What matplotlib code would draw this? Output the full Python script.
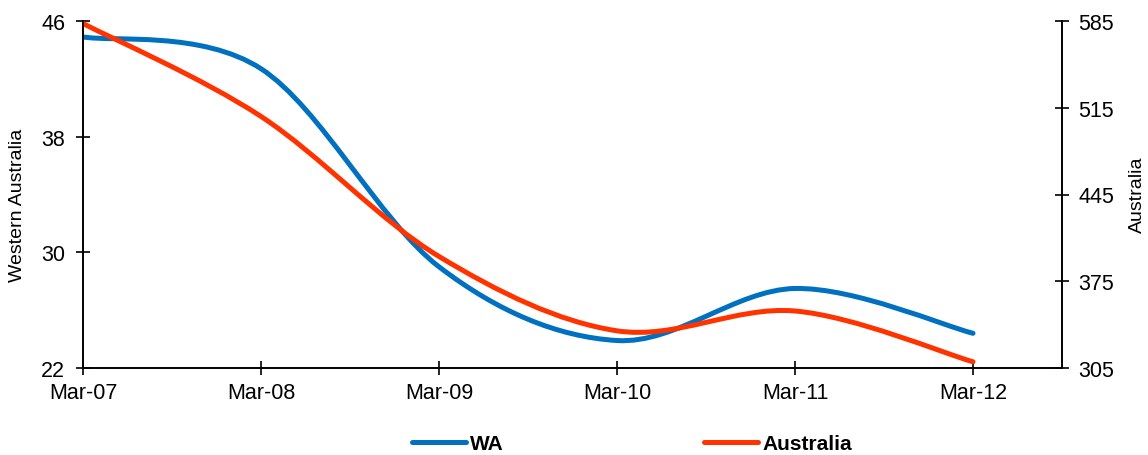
import matplotlib
matplotlib.use("Agg")
import matplotlib.pyplot as plt
from matplotlib.path import Path
from matplotlib.patches import PathPatch
from matplotlib.lines import Line2D

plt.rcParams['font.family'] = ['Liberation Sans', 'DejaVu Sans']

periods = ["Mar-07", "Mar-08", "Mar-09", "Mar-10", "Mar-11", "Mar-12"]
wa_values = [44.9, 42.7, 29.0, 23.9, 27.5, 24.4]
australia_values = [583, 508, 395, 335, 351, 310]

wa_ticks = [22, 30, 38, 46]
aus_ticks = [305, 375, 445, 515, 585]

WA_COLOR = "#0070C0"
AUS_COLOR = "#FF3300"


def smooth_path(xs, ys):
    """Cubic Bezier path through the points (Catmull-Rom style smoothing)."""
    pts = list(zip(xs, ys))
    n = len(pts)
    verts = [pts[0]]
    codes = [Path.MOVETO]
    for i in range(n - 1):
        p0 = pts[max(i - 1, 0)]
        p1 = pts[i]
        p2 = pts[i + 1]
        p3 = pts[min(i + 2, n - 1)]
        c1 = (p1[0] + (p2[0] - p0[0]) / 6.0, p1[1] + (p2[1] - p0[1]) / 6.0)
        c2 = (p2[0] - (p3[0] - p1[0]) / 6.0, p2[1] - (p3[1] - p1[1]) / 6.0)
        verts += [c1, c2, p2]
        codes += [Path.CURVE4] * 3
    return Path(verts, codes)


fig = plt.figure(figsize=(11.48, 4.56), dpi=100)
ax = fig.add_axes([83 / 1148, 87 / 456, 979 / 1148, 347 / 456])
ax2 = ax.twinx()

x = list(range(len(periods)))

ax.add_patch(PathPatch(smooth_path(x, wa_values), fill=False, edgecolor=WA_COLOR,
                       lw=3.6, capstyle='round', joinstyle='round'))
ax2.add_patch(PathPatch(smooth_path(x, australia_values), fill=False, edgecolor=AUS_COLOR,
                        lw=3.6, capstyle='round', joinstyle='round'))

ax.set_xlim(0, 5.5)
ax.set_ylim(22, 46)
ax2.set_ylim(305, 585)

ax.set_xticks(x)
ax.set_xticklabels(periods)
ax.set_yticks(wa_ticks)
ax2.set_yticks(aus_ticks)

for a in (ax, ax2):
    a.spines['top'].set_visible(False)
    for s in a.spines.values():
        s.set_linewidth(1.2)
    a.tick_params(direction='inout', length=9.5, width=1.2, labelsize=15.5,
                  colors='black')
ax.tick_params(axis='y', pad=8)
ax.tick_params(axis='x', pad=5)
ax2.tick_params(axis='y', pad=7)

fig.text(18 / 1148, 1 - 205 / 456, "Western Australia", rotation=90,
         ha='center', va='center', fontsize=14)
fig.text(1137 / 1148, 1 - 195 / 456, "Australia", rotation=90,
         ha='center', va='center', fontsize=14)

handles = [Line2D([], [], color=WA_COLOR, lw=3.6, solid_capstyle='round'),
           Line2D([], [], color=AUS_COLOR, lw=3.6, solid_capstyle='round')]
fig.legend(handles, ["WA", "Australia"], loc='center',
           bbox_to_anchor=(632 / 1148, 1 - 445 / 456), ncol=2, frameon=False,
           prop={'weight': 'bold', 'size': 15}, handlelength=2.6,
           handletextpad=0.2, columnspacing=9.6)

fig.savefig("out.png", dpi=100)
